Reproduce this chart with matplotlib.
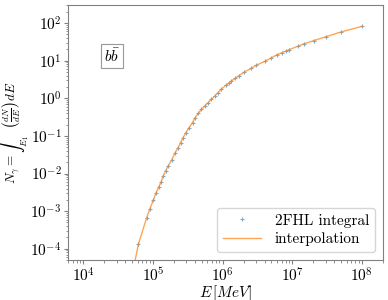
import numpy as np
import matplotlib
matplotlib.use("Agg")
import matplotlib.pyplot as plt

plt.rcParams['font.family'] = 'serif'
plt.rcParams['font.serif'] = ['cmr10', 'DejaVu Serif']
plt.rcParams['mathtext.fontset'] = 'cm'
plt.rcParams['axes.formatter.use_mathtext'] = True

# 2FHL integral points (E in MeV, N_gamma)
energy = [6.17e4, 8.13e4, 9.06e4, 1.01e5, 1.10e5, 1.22e5, 1.31e5, 1.40e5,
          1.52e5, 1.65e5, 1.85e5, 2.06e5, 2.30e5, 2.49e5, 2.71e5, 2.96e5,
          3.30e5, 3.69e5, 3.98e5, 4.44e5, 4.96e5, 5.53e5, 6.17e5, 6.90e5,
          7.69e5, 8.57e5, 9.58e5, 1.10e6, 1.23e6, 1.33e6, 1.52e6, 1.71e6,
          2.01e6, 2.57e6, 3.03e6, 4.11e6, 4.96e6, 5.97e6, 7.13e6, 8.13e6,
          9.06e6, 1.19e7, 1.48e7, 2.02e7, 3.03e7, 4.96e7, 1.0e8]
n_gamma = [1.33e-4, 6.78e-4, 1.17e-3, 1.96e-3, 3.01e-3, 4.51e-3, 6.12e-3, 8.51e-3,
           1.18e-2, 1.60e-2, 2.26e-2, 3.48e-2, 4.90e-2, 6.64e-2, 9.02e-2, 0.122,
           0.166, 0.225, 0.296, 0.395, 0.508, 0.626, 0.766, 0.942,
           1.15, 1.41, 1.74, 2.20, 2.55, 2.89, 3.40, 3.99,
           4.90, 6.25, 7.50, 9.80, 11.8, 14.2, 16.3, 18.1,
           19.8, 24.0, 28.2, 34.0, 43.3, 57.7, 81.7]

# interpolation curve starts a bit below the first point
interp_start_E = [5.25e4]
interp_start_N = [3e-5]
interp_E = interp_start_E + energy
interp_N = interp_start_N + n_gamma

fig = plt.figure(figsize=(3.88, 3.0), dpi=100)
ax = fig.add_axes([0.175, 0.133, 0.812, 0.85])

ax.plot(energy, n_gamma, '+', color='tab:blue', markersize=3.5, mew=0.8,
        alpha=0.6, label='2FHL integral')
ax.plot(interp_E, interp_N, '-', color='tab:orange', lw=1, alpha=0.7,
        label='interpolation')

ax.set_xscale('log')
ax.set_yscale('log')
ax.set_xlim(6e3, 2e8)
ax.set_ylim(5e-5, 3e2)

ax.set_xlabel(r'$E\,[MeV]$', fontsize=11)
ax.xaxis.set_label_coords(0.5, -0.09)
ax.set_ylabel(r'$N_\gamma = \int_{E_1}^{E_2}\left(\frac{dN}{dE}\right)dE$',
              fontsize=9.5)
ax.yaxis.set_label_coords(-0.118, 0.5)

for s in ax.spines.values():
    s.set_color('0.5')
ax.tick_params(which='major', length=3, pad=1.5)
ax.tick_params(which='minor', length=1.8)
ax.tick_params(which='both', color='0.5', labelsize=11)

ax.text(0.14, 0.80, r'$b\bar{b}$', transform=ax.transAxes, fontsize=11,
        ha='center', va='center',
        bbox=dict(boxstyle='square,pad=0.2', fc='white', ec='0.6', lw=0.8))

ax.legend(loc='lower right', fontsize=11, handlelength=2.5,
          borderpad=0.4, labelspacing=0.3, handletextpad=0.9)

fig.savefig('out.png', dpi=100)
